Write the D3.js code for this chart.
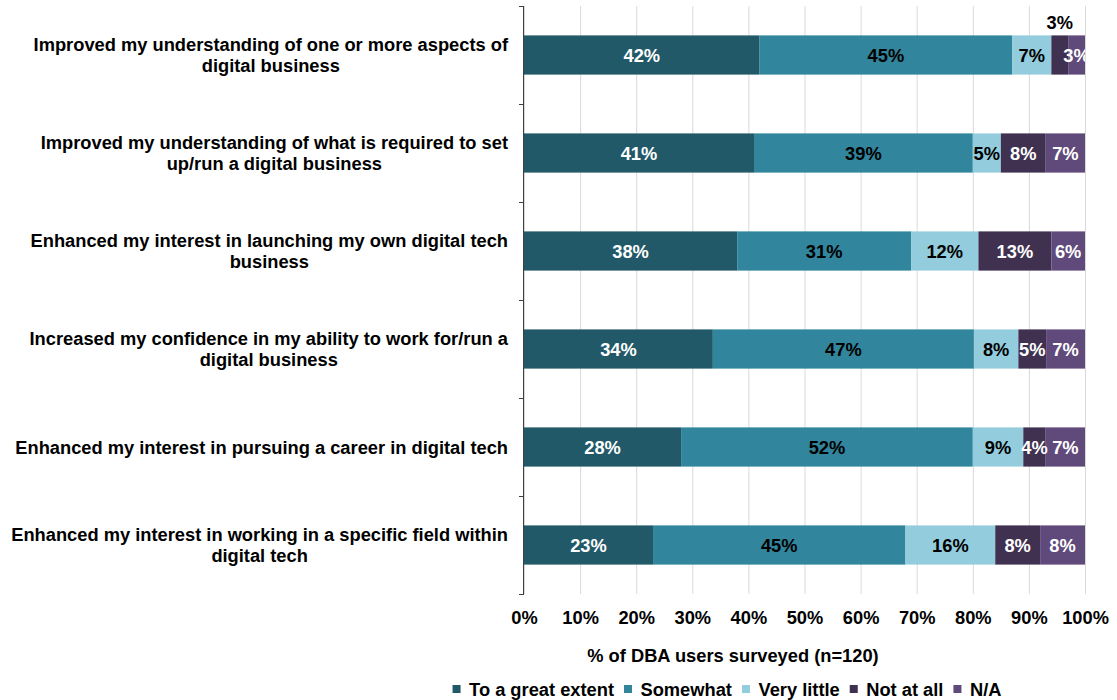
<!DOCTYPE html>
<html>
<head>
<meta charset="utf-8">
<script src="https://cdn.jsdelivr.net/npm/d3@7/dist/d3.min.js"></script>
<style>
  html, body { margin: 0; padding: 0; background: #ffffff; }
  svg { display: block; font-family: Arial, "Liberation Sans", sans-serif; font-weight: bold; }
</style>
</head>
<body>
<svg id="chart" width="1117" height="700"></svg>
<script>
// Survey statements (one bar each, top to bottom)
const categories = [
  "Improved my understanding of one or more aspects of digital business",
  "Improved my understanding of what is required to set up/run a digital business",
  "Enhanced my interest in launching my own digital tech business",
  "Increased my confidence in my ability to work for/run a digital business",
  "Enhanced my interest in pursuing a career in digital tech",
  "Enhanced my interest in working in a specific field within digital tech"
];

// Response options, in stacking order
const seriesNames = ["To a great extent", "Somewhat", "Very little", "Not at all", "N/A"];

// Share of respondents (%) per statement, one array per response option
const toAGreatExtent = [42, 41, 38, 34, 28, 23];
const somewhat       = [45, 39, 31, 47, 52, 45];
const veryLittle     = [7, 5, 12, 8, 9, 16];
const notAtAll       = [3, 8, 13, 5, 4, 8];
const notApplicable  = [3, 7, 6, 7, 7, 8];

const xTickValues = [0, 0.1, 0.2, 0.3, 0.4, 0.5, 0.6, 0.7, 0.8, 0.9, 1];
const xAxisTitle = "% of DBA users surveyed (n=120)";

const colors = ["#215968", "#31859C", "#93CDDD", "#403151", "#604A7B"];
const labelColors = ["#ffffff", "#000000", "#000000", "#ffffff", "#ffffff"];

// Build rows for the stack layout
const seriesValues = [toAGreatExtent, somewhat, veryLittle, notAtAll, notApplicable];
const rows = categories.map((c, i) => {
  const r = { category: c };
  seriesNames.forEach((s, j) => { r[s] = seriesValues[j][i]; });
  return r;
});

const svg = d3.select("#chart");
const plot = { left: 524, right: 1085, top: 6, bottom: 594 };
const fontSize = 18.3;

const x = d3.scaleLinear().domain([0, 1]).range([plot.left, plot.right]);
const y = d3.scaleBand().domain(categories).range([plot.top, plot.bottom])
  .paddingInner(0.6).paddingOuter(0.3);

// 100% stacked layout
const stacked = d3.stack().keys(seriesNames).offset(d3.stackOffsetExpand)(rows);

// Vertical gridlines
svg.append("g")
  .selectAll("line")
  .data(xTickValues)
  .join("line")
  .attr("x1", d => x(d) + 0.5).attr("x2", d => x(d) + 0.5)
  .attr("y1", plot.top).attr("y2", plot.bottom)
  .attr("stroke", "#d9d9d9").attr("stroke-width", 1);

// Clip region for value labels
svg.append("clipPath").attr("id", "plotClip")
  .append("rect")
  .attr("x", plot.left).attr("y", 0)
  .attr("width", plot.right - plot.left).attr("height", plot.bottom);

// Bars
const layers = svg.append("g").selectAll("g")
  .data(stacked)
  .join("g")
  .attr("fill", (d, i) => colors[i]);

layers.selectAll("rect")
  .data(d => d)
  .join("rect")
  .attr("x", d => x(d[0]))
  .attr("width", d => x(d[1]) - x(d[0]))
  .attr("y", d => y(d.data.category))
  .attr("height", y.bandwidth());

// Value labels
const raised = { category: categories[0], key: "Not at all" };
const labelG = svg.append("g").attr("clip-path", "url(#plotClip)")
  .attr("font-size", fontSize).attr("text-anchor", "middle");

stacked.forEach((layer, i) => {
  layer.forEach(d => {
    const cat = d.data.category;
    const value = d.data[layer.key];
    const cx = (x(d[0]) + x(d[1])) / 2;
    const isRaised = cat === raised.category && layer.key === raised.key;
    labelG.append("text")
      .attr("x", cx)
      .attr("y", isRaised ? y(cat) - 6 : y(cat) + y.bandwidth() / 2 + 6.5)
      .attr("fill", isRaised ? "#000000" : labelColors[i])
      .text(value + "%");
  });
});

// X axis tick labels
svg.append("g")
  .attr("transform", `translate(0,${plot.bottom})`)
  .call(d3.axisBottom(x).tickValues(xTickValues).tickFormat(d3.format(".0%")).tickSize(0))
  .call(g => g.select(".domain").remove())
  .call(g => g.selectAll("text")
    .attr("font-size", fontSize).attr("font-family", null).attr("fill", "#000000")
    .attr("dy", null).attr("y", 30));

// Y axis line with ticks at category boundaries
const boundaries = d3.range(categories.length + 1).map(i => plot.top + i * y.step());
const yAxisG = svg.append("g");
yAxisG.append("line")
  .attr("x1", plot.left - 0.5).attr("x2", plot.left - 0.5)
  .attr("y1", plot.top).attr("y2", plot.bottom)
  .attr("stroke", "#404040").attr("stroke-width", 1);
yAxisG.selectAll("line.tick")
  .data(boundaries)
  .join("line")
  .attr("class", "tick")
  .attr("x1", plot.left - 5).attr("x2", plot.left)
  .attr("y1", d => d + 0.5).attr("y2", d => d + 0.5)
  .attr("stroke", "#404040").attr("stroke-width", 1);

// Category labels, wrapped and centred as a block right-aligned to the axis
const maxLabelWidth = 512;
const labelRight = 508;
const lineHeight = 21;
const catG = svg.append("g").attr("font-size", fontSize).attr("fill", "#000000");

categories.forEach(cat => {
  const probe = catG.append("text");
  const words = cat.split(" ");
  const lines = [];
  let line = [];
  words.forEach(w => {
    probe.text(line.concat(w).join(" "));
    if (line.length && probe.node().getComputedTextLength() > maxLabelWidth) {
      lines.push(line.join(" "));
      line = [w];
    } else {
      line.push(w);
    }
  });
  lines.push(line.join(" "));
  const widths = lines.map(l => { probe.text(l); return probe.node().getComputedTextLength(); });
  probe.remove();
  const blockW = d3.max(widths);
  const cx = labelRight - blockW / 2;
  const mid = y(cat) + y.bandwidth() / 2;
  const firstBaseline = mid + 6.5 - (lines.length - 1) * lineHeight / 2;
  const t = catG.append("text").attr("text-anchor", "middle");
  lines.forEach((l, k) => {
    t.append("tspan").attr("x", cx).attr("y", firstBaseline + k * lineHeight).text(l);
  });
});

// Axis title
svg.append("text")
  .attr("x", 733)
  .attr("y", 662)
  .attr("text-anchor", "middle")
  .attr("font-size", fontSize)
  .text(xAxisTitle);

// Legend, centred under the plot
const legendG = svg.append("g").attr("font-size", fontSize);
const swatch = 8, swatchGap = 8.5, itemGap = 10, legendBaseline = 696;
const items = seriesNames.map((name, i) => {
  const g = legendG.append("g");
  g.append("rect")
    .attr("width", swatch).attr("height", swatch)
    .attr("y", legendBaseline - 11)
    .attr("fill", colors[i]);
  const t = g.append("text")
    .attr("x", swatch + swatchGap)
    .attr("y", legendBaseline)
    .text(name);
  return { g, w: swatch + swatchGap + t.node().getComputedTextLength() };
});
const totalW = d3.sum(items, d => d.w) + itemGap * (items.length - 1);
let lx = 727 - totalW / 2;
items.forEach(it => {
  it.g.attr("transform", `translate(${lx},0)`);
  lx += it.w + itemGap;
});
</script>
</body>
</html>
